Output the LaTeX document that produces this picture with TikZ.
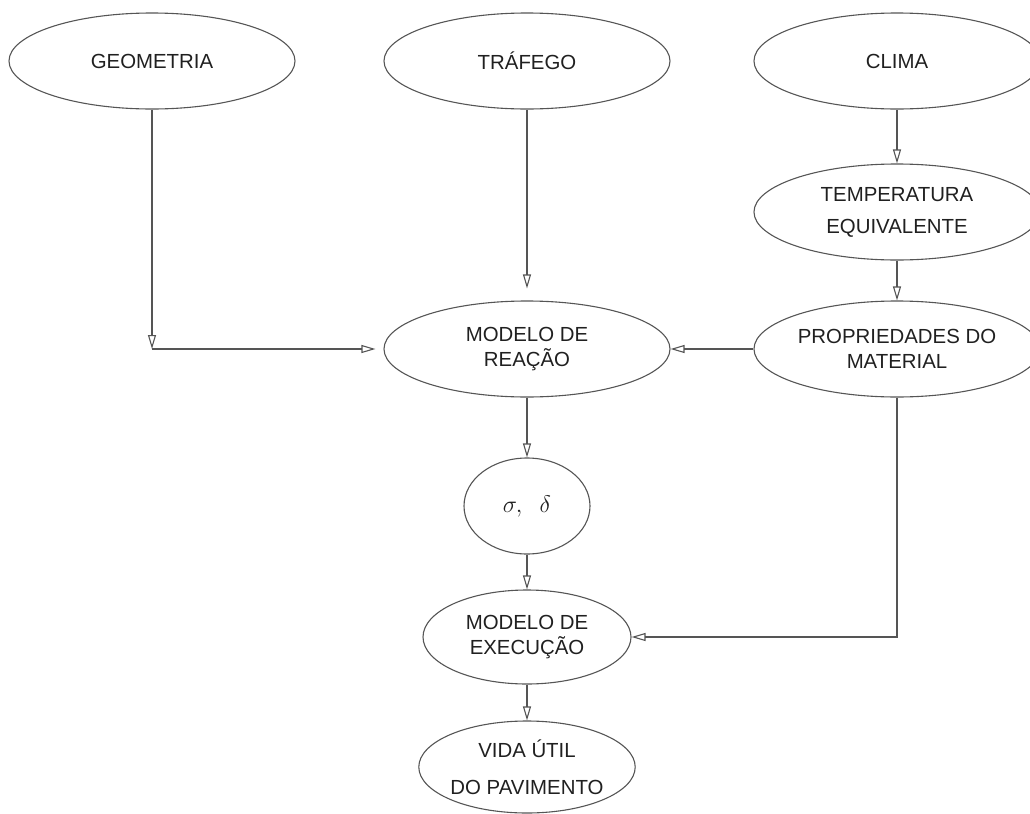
\documentclass[tikz,border=0pt]{standalone}
\usepackage{fontspec}
\setmainfont{Liberation Sans}
\usetikzlibrary{arrows.meta,positioning,shapes.geometric}
\definecolor{fluxline}{HTML}{555555}
\definecolor{fluxtext}{HTML}{202020}

\begin{document}
\begin{tikzpicture}[x=0.5pt,y=-0.5pt,
  elipse/.style={draw=fluxline,line width=0.55pt,ellipse,inner sep=0pt,
    minimum width=143pt,minimum height=48pt,align=center,text=fluxtext,
    font=\fontsize{10.2}{12.5}\selectfont},
  seta/.style={draw=fluxline,line width=0.55pt,
    -{Triangle[open,length=7pt,width=4pt]}}]
\useasboundingbox (0,0) rectangle (1030,814);
\node[elipse] (geom) at (152,61) {GEOMETRIA};
\node[elipse] (traf) at (527,61) {TRÁFEGO};
\node[elipse] (clima) at (897,61) {CLIMA};
\node[elipse,font=\fontsize{10.2}{16}\selectfont] (temp) at (897,212)
  {TEMPERATURA\\EQUIVALENTE};
\node[elipse] (prop) at (897,349) {PROPRIEDADES DO\\MATERIAL};
\node[elipse] (reac) at (527,349) {MODELO DE\\REAÇÃO};
\node[elipse,minimum width=63pt,font=\fontsize{12}{14}\selectfont] (tens)
  at (527,506) {$\sigma,\;\;\delta$};
\node[elipse,minimum width=104pt,minimum height=47pt] (exec) at (527,637)
  {MODELO DE\\EXECUÇÃO};
\node[elipse,minimum width=107pt,minimum height=46pt,
  font=\fontsize{10.2}{18.5}\selectfont] (vida) at (527,767)
  {VIDA ÚTIL\\DO PAVIMENTO};
\coordinate (canto) at (geom |- reac);
\draw[seta] (geom) -- (canto);
\draw[seta,shorten >=4pt] (canto) -- (reac);
\draw[seta,shorten >=6pt] (traf) -- (reac);
\draw[seta] (clima) -- (temp);
\draw[seta] (temp) -- (prop);
\draw[seta] (prop) -- (reac);
\draw[seta] (reac) -- (tens);
\draw[seta] (tens) -- (exec);
\draw[seta] (prop.south) |- (exec);
\draw[seta] (exec) -- (vida);
\end{tikzpicture}
\end{document}
